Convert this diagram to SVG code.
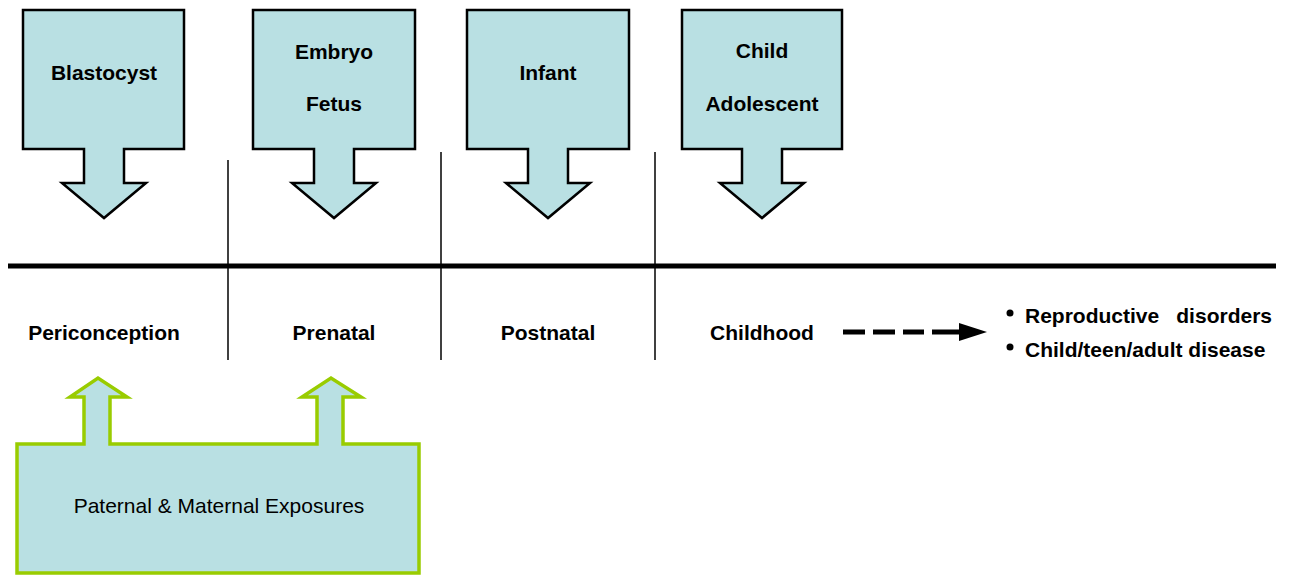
<svg xmlns="http://www.w3.org/2000/svg" width="1290" height="576" viewBox="0 0 1290 576">
<style>
.stage{fill:#b9e0e3;stroke:#000;stroke-width:2.5;stroke-linejoin:miter}
.exp{fill:#b9e0e3;stroke:#99cc00;stroke-width:3.5;stroke-linejoin:miter}
.lb{font-family:"Liberation Sans",Arial,sans-serif;font-weight:bold;font-size:21px;fill:#000;text-anchor:middle}
.lr{font-family:"Liberation Sans",Arial,sans-serif;font-size:21px;fill:#000;text-anchor:middle}
.ls{font-family:"Liberation Sans",Arial,sans-serif;font-weight:bold;font-size:21px;fill:#000}
.div{stroke:#000;stroke-width:1.5}
</style>
<rect width="1290" height="576" fill="#fff"/>
<g id="blastocyst">
<path class="stage" d="M23,10 H184 V149 H124 V183 H146 L104,218 L62,183 H84 V149 H23 Z"/>
<text class="lb" x="104" y="80">Blastocyst</text>
</g>
<g id="embryo-fetus">
<path class="stage" d="M253,10 H415 V149 H354 V183 H376 L334,218 L292,183 H314 V149 H253 Z"/>
<text class="lb" x="334" y="59">Embryo</text>
<text class="lb" x="334" y="111">Fetus</text>
</g>
<g id="infant">
<path class="stage" d="M467,10 H629 V149 H568 V183 H590 L548,218 L506,183 H528 V149 H467 Z"/>
<text class="lb" x="548" y="80">Infant</text>
</g>
<g id="child-adolescent">
<path class="stage" d="M682,10 H842 V149 H782 V183 H804 L762,218 L720,183 H742 V149 H682 Z"/>
<text class="lb" x="762" y="58">Child</text>
<text class="lb" x="762" y="111">Adolescent</text>
</g>
<g id="timeline">
<line x1="8" y1="266" x2="1276" y2="266" stroke="#000" stroke-width="5"/>
<line class="div" x1="228" y1="160" x2="228" y2="360"/>
<line class="div" x1="441" y1="152" x2="441" y2="360"/>
<line class="div" x1="655" y1="152" x2="655" y2="360"/>
</g>
<g id="periods">
<text class="lb" x="104" y="340">Periconception</text>
<text class="lb" x="334" y="340">Prenatal</text>
<text class="lb" x="548" y="340">Postnatal</text>
<text class="lb" x="762" y="340">Childhood</text>
</g>
<g id="connectors">
<line x1="843" y1="332" x2="924" y2="332" stroke="#000" stroke-width="5" stroke-dasharray="22,8"/>
<line x1="932" y1="332" x2="962" y2="332" stroke="#000" stroke-width="5"/>
<path d="M959,323 L987,332 L959,341 Z" fill="#000"/>
</g>
<g id="outcomes">
<circle cx="1010" cy="313" r="3.5" fill="#000"/>
<circle cx="1010" cy="347" r="3.5" fill="#000"/>
<text class="ls" x="1025" y="323">Reproductive</text>
<text class="ls" x="1272" y="323" text-anchor="end">disorders</text>
<text class="ls" x="1025" y="357">Child/teen/adult disease</text>
</g>
<g id="exposures">
<path class="exp" d="M17,444 H84 V397 H70 L98,378 L127,397 H110 V444 H317 V397 H302 L331,378 L361,397 H343 V444 H419 V573 H17 Z"/>
<text class="lr" x="219" y="513">Paternal &amp; Maternal Exposures</text>
</g>
</svg>
